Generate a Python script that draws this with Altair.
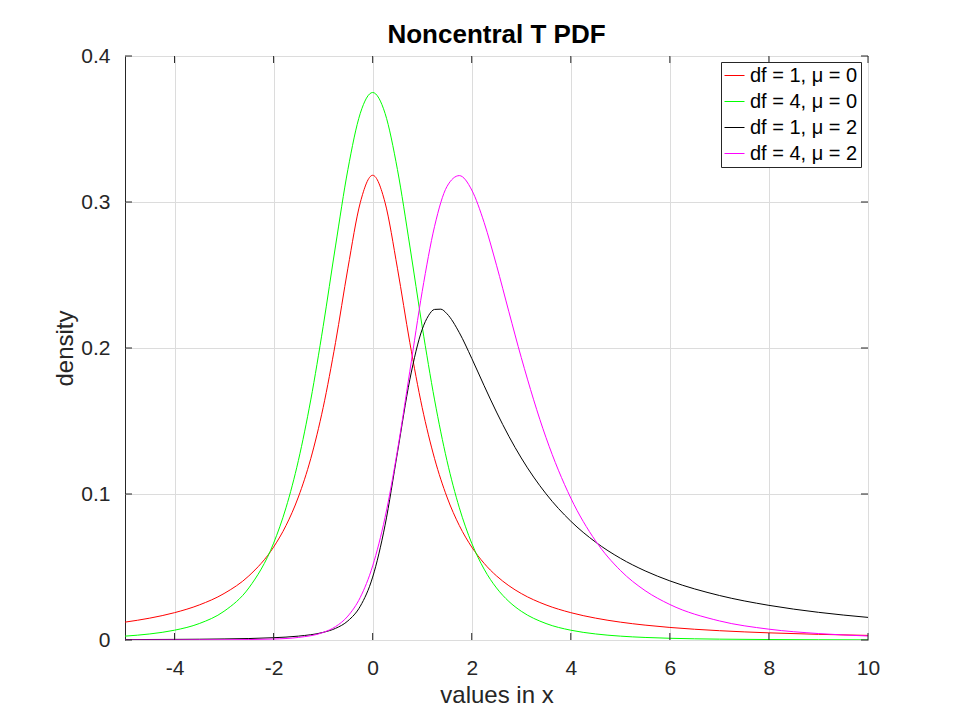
import altair as alt
import pandas as pd

# ---------------- data ----------------
TITLE = ["Noncentral T PDF"]
SERIES = ["df = 1, μ = 0", "df = 4, μ = 0", "df = 1, μ = 2", "df = 4, μ = 2"]
COLORS = ["#ff0000", "#00ff00", "#000000", "#ff00ff"]

X_CENTRAL = [-5, -4.5, -4, -3.5, -3, -2.5, -2, -1.75, -1.5, -1.25, -1, -0.75, -0.5, -0.25,
             0, 0.25, 0.5, 0.75, 1, 1.25, 1.5, 1.75, 2, 2.25, 2.5, 2.75, 3, 3.5, 4, 4.5,
             5, 5.5, 6, 7, 8, 9, 10]
Y_DF1_MU0 = [0.01224, 0.01498, 0.01872, 0.02402, 0.03183, 0.04390, 0.06366, 0.07835, 0.09794,
             0.12422, 0.15915, 0.20372, 0.25465, 0.29959, 0.31831, 0.29959, 0.25465, 0.20372,
             0.15915, 0.12422, 0.09794, 0.07835, 0.06366, 0.05251, 0.04390, 0.03718, 0.03183,
             0.02402, 0.01872, 0.01498, 0.01224, 0.01019, 0.00860, 0.00637, 0.00490, 0.00388,
             0.00315]
Y_DF4_MU0 = [0.002649, 0.004145, 0.006708, 0.011275, 0.019692, 0.035666, 0.066291, 0.090525,
             0.12288, 0.16444, 0.21466, 0.26988, 0.32226, 0.36074, 0.375, 0.36074, 0.32226,
             0.26988, 0.21466, 0.16444, 0.12288, 0.090525, 0.066291, 0.04854, 0.035666,
             0.026389, 0.019692, 0.011275, 0.006708, 0.004145, 0.002649, 0.001748, 0.001186,
             0.000587, 0.000315, 0.00018, 0.000109]

X_DF1_MU2 = [-5, -4, -3, -2, -1.5, -1, -0.75, -0.5, -0.25, 0, 0.25, 0.5, 0.75, 1, 1.125, 1.25,
             1.375, 1.5, 1.75, 2, 2.25, 2.5, 2.75, 3, 3.5, 4, 4.5, 5, 5.5, 6, 7, 8, 9, 10]
Y_DF1_MU2 = [0.00027, 0.00042, 0.00072, 0.00157, 0.00265, 0.00522, 0.00797, 0.01308, 0.02314,
             0.04308, 0.07860, 0.12834, 0.17834, 0.21277, 0.22207, 0.22643, 0.22660, 0.22344,
             0.21046, 0.19292, 0.17420, 0.15613, 0.13952, 0.12467, 0.10012, 0.08137, 0.06705,
             0.05600, 0.04735, 0.04049, 0.03049, 0.02373, 0.01896, 0.01548]

X_DF4_MU2 = [-5, -4, -3, -2, -1.5, -1, -0.75, -0.5, -0.25, 0, 0.25, 0.5, 0.75, 1, 1.25, 1.5,
             1.75, 2, 2.25, 2.5, 2.75, 3, 3.5, 4, 4.5, 5, 5.5, 6, 7, 8, 9, 10]
Y_DF4_MU2 = [0.000014, 0.000039, 0.000137, 0.000674, 0.001762, 0.005165, 0.009151, 0.016394,
             0.029204, 0.050750, 0.083995, 0.129717, 0.184088, 0.238700, 0.283361, 0.310593,
             0.318078, 0.308228, 0.285977, 0.256697, 0.224822, 0.193455, 0.138584, 0.097210,
             0.067905, 0.047683, 0.033829, 0.024305, 0.013071, 0.007415, 0.004415, 0.002744]

X_TICKS = [-4, -2, 0, 2, 4, 6, 8, 10]
Y_TICKS = [0, 0.1, 0.2, 0.3, 0.4]

# ---------------- build table ----------------
rows = []
for name, xs, ys in [(SERIES[0], X_CENTRAL, Y_DF1_MU0),
                     (SERIES[1], X_CENTRAL, Y_DF4_MU0),
                     (SERIES[2], X_DF1_MU2, Y_DF1_MU2),
                     (SERIES[3], X_DF4_MU2, Y_DF4_MU2)]:
    for xv, yv in zip(xs, ys):
        rows.append({"series": name, "x": xv, "y": yv})
df = pd.DataFrame(rows)

W, H = 743, 584
FONT = "Liberation Sans"
AX = "#262626"

xscale = alt.Scale(domain=[-5, 10], nice=False, zero=False)
yscale = alt.Scale(domain=[0, 0.4], nice=False, zero=False)

lines = alt.Chart(df).mark_line(strokeWidth=1, interpolate="monotone", clip=True).encode(
    x=alt.X("x:Q", scale=xscale,
            axis=alt.Axis(values=X_TICKS, title="values in x", grid=True, gridColor="#dcdcdc",
                          ticks=False, domain=False, labelFontSize=21, labelColor=AX,
                          labelPadding=17, labelExpr="'' + datum.value", labelFlush=False,
                          titleFontSize=24, titleFontWeight="normal", titleColor=AX,
                          titleX=W / 2, titleY=62, titleBaseline="alphabetic",
                          titleAlign="center")),
    y=alt.Y("y:Q", scale=yscale,
            axis=alt.Axis(values=Y_TICKS, title="density", grid=True, gridColor="#dcdcdc",
                          ticks=False, domain=False, labelFontSize=21, labelColor=AX,
                          labelPadding=15, labelExpr="'' + datum.value", labelFlush=False,
                          titleFontSize=24, titleFontWeight="normal", titleColor=AX,
                          titleX=-53, titleY=H / 2, titleAngle=270,
                          titleBaseline="alphabetic", titleAlign="center")),
    color=alt.Color("series:N", sort=SERIES,
                    scale=alt.Scale(domain=SERIES, range=COLORS),
                    legend=alt.Legend(title=None, orient="none", legendX=596, legendY=6,
                                      fillColor="white", strokeColor=AX, padding=3,
                                      symbolType="stroke", symbolSize=400,
                                      symbolStrokeWidth=1, labelFontSize=20,
                                      labelColor="#000000", labelOffset=5, rowPadding=5,
                                      labelFont=FONT)),
)

tx = pd.DataFrame({"x": X_TICKS})
ty = pd.DataFrame({"y": Y_TICKS})
tick_bottom = alt.Chart(tx).mark_rule(color=AX, strokeWidth=1).encode(
    x=alt.X("x:Q", scale=xscale), y=alt.value(H), y2=alt.value(H - 7))
tick_top = alt.Chart(tx).mark_rule(color=AX, strokeWidth=1).encode(
    x=alt.X("x:Q", scale=xscale), y=alt.value(0), y2=alt.value(7))
tick_left = alt.Chart(ty).mark_rule(color=AX, strokeWidth=1).encode(
    y=alt.Y("y:Q", scale=yscale), x=alt.value(0), x2=alt.value(7))
tick_right = alt.Chart(ty).mark_rule(color=AX, strokeWidth=1).encode(
    y=alt.Y("y:Q", scale=yscale), x=alt.value(W), x2=alt.value(W - 7))

title = alt.Chart(pd.DataFrame({"t": TITLE})).mark_text(
    font=FONT, fontSize=26, fontWeight="bold", color="#000000",
    align="center", baseline="alphabetic"
).encode(text="t:N", x=alt.value(W / 2), y=alt.value(-13))

chart = alt.layer(lines, tick_bottom, tick_top, tick_left, tick_right, title).properties(
    width=W, height=H,
    autosize=alt.AutoSizeParams(type="none"),
    padding={"left": 117, "top": 48, "right": 70, "bottom": 70},
).configure_view(stroke=AX, strokeWidth=1).configure_axis(
    labelFont=FONT, titleFont=FONT
).configure_legend(labelFont=FONT)

chart.save("out.html", embed_options={"renderer": "svg", "actions": False})
